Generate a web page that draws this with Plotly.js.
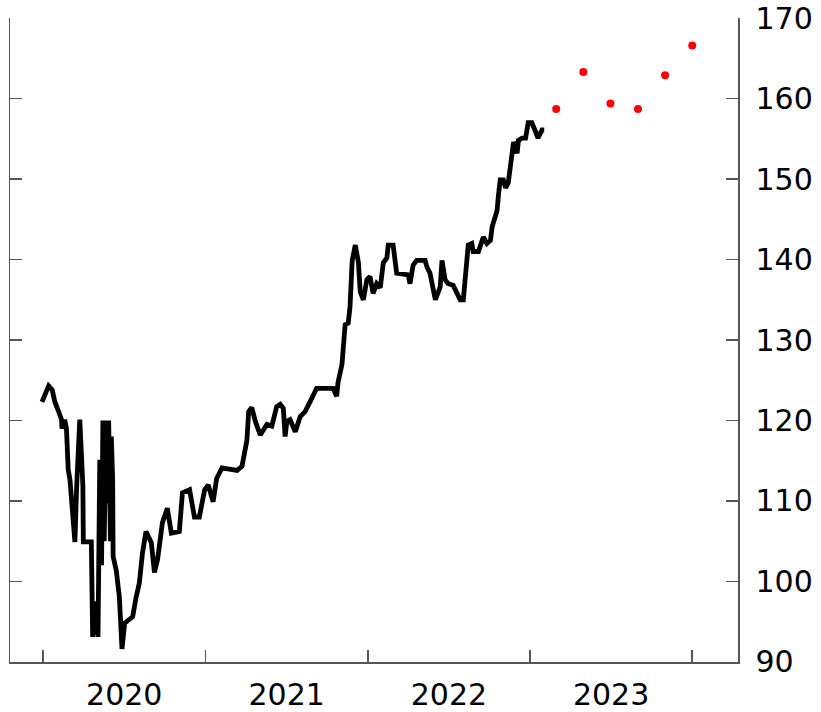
<!DOCTYPE html>
<html>
<head>
<meta charset="utf-8">
<script src="https://cdn.plot.ly/plotly-3.0.1.min.js"></script>
<style>html,body{margin:0;padding:0;background:#fff;}#chart{width:821px;height:712px;}</style>
</head>
<body>
<div id="chart"></div>
<script>
const histDates = [
"2019-12-30","2020-01-14","2020-01-22","2020-01-28","2020-02-04","2020-02-12","2020-02-13","2020-02-19","2020-02-23","2020-02-24",
"2020-02-27","2020-03-02","2020-03-13","2020-03-17","2020-03-24","2020-03-31","2020-04-01","2020-04-19","2020-04-22","2020-04-28",
"2020-05-04","2020-05-08","2020-05-12","2020-05-15","2020-05-18","2020-05-22","2020-05-25","2020-05-28","2020-06-01","2020-06-03",
"2020-06-06","2020-06-07","2020-06-14","2020-06-21","2020-06-27","2020-07-03","2020-07-14","2020-07-21","2020-07-29","2020-08-05",
"2020-08-12","2020-08-20","2020-09-01","2020-09-08","2020-09-15","2020-09-26","2020-10-07","2020-10-16","2020-11-03","2020-11-10",
"2020-11-26","2020-12-07","2020-12-18","2020-12-30","2021-01-07","2021-01-18","2021-01-26","2021-02-07","2021-03-13","2021-03-24",
"2021-04-04","2021-04-08","2021-04-15","2021-04-23","2021-05-04","2021-05-19","2021-05-30","2021-06-10","2021-06-18","2021-06-25",
"2021-06-29","2021-07-03","2021-07-10","2021-07-22","2021-08-02","2021-08-13","2021-08-24","2021-09-08","2021-10-15","2021-10-23",
"2021-10-26","2021-11-04","2021-11-11","2021-11-18","2021-11-22","2021-11-26","2021-11-27","2021-12-04","2021-12-11","2021-12-15",
"2021-12-22","2021-12-30","2022-01-06","2022-01-13","2022-01-21","2022-01-29","2022-02-05","2022-02-13","2022-02-16","2022-02-27",
"2022-03-07","2022-04-02","2022-04-06","2022-04-13","2022-04-21","2022-05-10","2022-05-14","2022-05-21","2022-05-28","2022-06-02",
"2022-06-13","2022-06-17","2022-06-24","2022-07-01","2022-07-12","2022-07-20","2022-07-28","2022-08-04","2022-08-12","2022-08-15",
"2022-08-23","2022-08-26","2022-09-07","2022-09-18","2022-09-26","2022-10-04","2022-10-08","2022-10-15","2022-10-19","2022-10-22",
"2022-10-26","2022-11-02","2022-11-07","2022-11-13","2022-11-22","2022-11-25","2022-12-03","2022-12-06","2022-12-14","2022-12-22",
"2022-12-28","2023-01-05","2023-01-12","2023-01-19","2023-01-28","2023-02-02"
];
const histValues = [
122.3,124.3,123.8,122.3,121.3,120.1,119.0,120.1,119.0,115.1,
113.9,112.6,104.9,111.8,120.1,111.8,104.9,104.9,93.1,97.5,
93.1,115.1,102.0,120.0,105.0,120.0,109.7,120.0,105.0,118.0,
112.6,103.1,101.4,98.1,91.6,94.8,95.2,95.6,98.1,99.8,
103.5,106.2,104.8,101.1,102.7,107.3,109.1,106.0,106.2,111.0,
111.4,108.0,108.0,111.4,112.0,109.9,112.8,114.1,113.8,114.3,
117.5,121.1,121.6,119.9,118.2,119.5,119.3,121.7,122.0,121.5,
118.0,119.9,120.1,118.6,120.5,121.1,122.3,124.0,124.0,123.0,
124.7,127.0,131.9,132.1,134.1,137.9,139.9,141.8,139.6,136.0,
135.0,137.5,137.9,135.8,137.0,136.5,139.6,140.2,141.8,141.8,
138.3,138.1,137.0,139.3,139.9,139.9,139.1,138.3,136.0,135.0,
136.6,139.9,137.5,137.0,136.8,135.8,135.0,135.0,139.6,141.8,
142.0,141.0,141.0,142.8,142.0,142.4,144.1,145.2,146.1,148.0,
149.9,149.9,148.9,149.5,153.6,154.6,153.2,154.8,155.1,155.1,
157.0,157.0,156.1,155.1,156.1,156.1
];
const forecastDates = ["2023-03-01","2023-05-01","2023-07-01","2023-09-01","2023-11-01","2024-01-01"];
const forecastValues = [158.7,163.3,159.4,158.7,162.9,166.6];
const yTicks = [90,100,110,120,130,140,150,160,170];

const axisColor = "#555555";
const fontFam = "'DejaVu Sans', sans-serif";

const data = [
  {x: histDates, y: histValues, type: "scatter", mode: "lines",
   line: {color: "#000000", width: 4.8}, hoverinfo: "skip", showlegend: false},
  {x: forecastDates, y: forecastValues, type: "scatter", mode: "markers",
   marker: {color: "#ff0000", size: 8}, hoverinfo: "skip", showlegend: false},
  {x: forecastDates, y: forecastValues, yaxis: "y2", type: "scatter", mode: "markers",
   marker: {color: "rgba(0,0,0,0)", size: 1}, hoverinfo: "skip", showlegend: false}
];

const layout = {
  width: 821, height: 712,
  margin: {l: 10, r: 83, t: 18, b: 50},
  paper_bgcolor: "#ffffff", plot_bgcolor: "#ffffff",
  font: {family: fontFam, size: 30, color: "#000000"},
  showlegend: false,
  xaxis: {
    type: "date",
    range: ["2019-10-19", "2024-04-13"],
    tick0: "2020-01-01", dtick: "M12",
    tickformat: "%Y", ticklabelmode: "period",
    ticks: "inside", ticklen: 12, tickwidth: 1.5, tickcolor: axisColor,
    showline: true, linecolor: axisColor, linewidth: 1.5,
    showgrid: false, zeroline: false,
    ticklabelstandoff: 5,
    tickfont: {family: fontFam, size: 30, color: "#000000"}
  },
  yaxis: {
    side: "right",
    range: [89.98, 170.02],
    tickvals: yTicks,
    ticks: "inside", ticklen: 12, tickwidth: 1.5, tickcolor: axisColor,
    showline: true, linecolor: axisColor, linewidth: 1.5,
    showgrid: false, zeroline: false,
    ticklabelstandoff: 10,
    ticklabeloverflow: "allow",
    tickfont: {family: fontFam, size: 30, color: "#000000"}
  },
  yaxis2: {
    overlaying: "y", side: "left",
    range: [89.98, 170.02],
    tickvals: yTicks,
    showticklabels: false,
    ticks: "inside", ticklen: 12, tickwidth: 1.5, tickcolor: axisColor,
    showline: true, linecolor: axisColor, linewidth: 1.5,
    showgrid: false, zeroline: false
  }
};

Plotly.newPlot("chart", data, layout, {staticPlot: true, displayModeBar: false});
</script>
</body>
</html>
